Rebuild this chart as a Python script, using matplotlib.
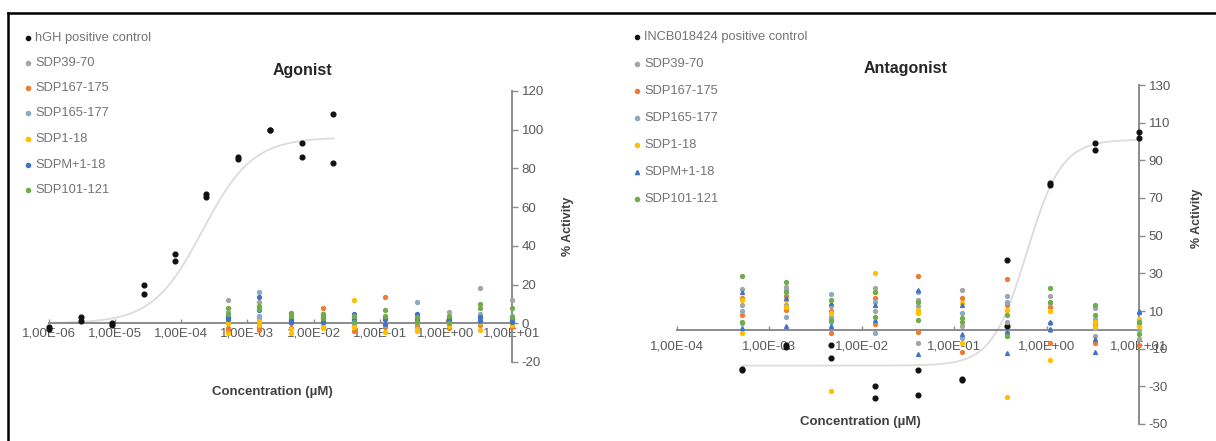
import numpy as np
import matplotlib
matplotlib.use('Agg')
import matplotlib.pyplot as plt
from matplotlib.lines import Line2D
from matplotlib.ticker import FixedLocator, FuncFormatter, NullLocator

plt.rcParams['font.family'] = ['Liberation Sans', 'DejaVu Sans']
plt.rcParams['axes.unicode_minus'] = False

# ---------------- data ----------------
series_names = ['SDP39-70', 'SDP167-175', 'SDP165-177', 'SDP1-18', 'SDPM+1-18', 'SDP101-121']
series_colors = ['#A5A5A5', '#ED7D31', '#8EA9C1', '#FFC000', '#4472C4', '#70AD47']

# Agonist panel
ag_ctrl_name = 'hGH positive control'
ag_ctrl_conc = [1.0e-6, 3.0e-6, 9.0e-6, 2.7e-5, 8.1e-5, 2.4e-4, 7.3e-4, 2.2e-3, 6.6e-3, 2.0e-2]
ag_ctrl_r1 = [-3, 3, 0, 20, 36, 67, 86, 100, 93, 108]
ag_ctrl_r2 = [-2, 1, -1, 15, 32, 65, 85, 100, 86, 83]
ag_fit = dict(bottom=0.0, top=96.0, ec50=2.1e-4, hill=1.15)

cmp_conc = [5.1e-4, 1.5e-3, 4.6e-3, 1.4e-2, 4.1e-2, 1.2e-1, 3.7e-1, 1.1, 3.3, 10.0]

ag_SDP39_70_r1 = [12, 11, 3, 2, 3, 3, 2.5, 5.8, 18, 12]
ag_SDP39_70_r2 = [3, 2.6, 1, 0, -1.5, 0, -1, 0, 2, 1]
ag_SDP167_175_r1 = [-2.5, -2, -2.5, 7.7, 1, 13.5, 1, 1, 1, 0]
ag_SDP167_175_r2 = [-4, -3.5, 0, 5, -4, -2, -2, -2.5, -1, -2]
ag_SDP165_177_r1 = [6, 16, 5.2, 1, 2, 1, 11, 2.6, 5, 4]
ag_SDP165_177_r2 = [1, 4, 2, -1, 0, -1, 0, -1, 0, 0]
ag_SDP1_18_r1 = [-5, -1, -5, -2.5, 12, -4.5, -4, -1.5, -3.5, 1.5]
ag_SDP1_18_r2 = [0, 1, -3, -1.5, -2, 0.5, -3, 0.5, 0.5, -1]
ag_SDPM1_18_r1 = [3, 13.5, 0.8, 3, 5, 2, 5, 2, 3, 2]
ag_SDPM1_18_r2 = [2, 6.7, 1.5, 0.5, 1.5, -0.5, 2, 1, 1, 0.5]
ag_SDP101_121_r1 = [8, 9, 5.5, 5, 4, 6.8, 3, 4, 10, 8]
ag_SDP101_121_r2 = [5, 7.5, 4, 2.5, 0.5, 4, 0.5, 0, 8, 3]

# Antagonist panel
an_ctrl_name = 'INCB018424 positive control'
an_ctrl_r1 = [-21.5, -8, -8, -30, -21.5, -26.5, 37, 78, 99, 105]
an_ctrl_r2 = [-21, -9, -15, -36, -34.5, -26, 2, 77, 95.5, 102]
an_fit = dict(bottom=-19.0, top=101.0, ec50=0.61, hill=2.3)

an_SDP39_70_r1 = [21.7, 23, 12.4, 22, 16, 21.2, 17.7, 17.7, 11.5, 5]
an_SDP39_70_r2 = [13, 13, 7, 10, -7, 2, 4, 3.5, -3.5, -5]
an_SDP167_175_r1 = [17, 18, 10, 17, 28.6, 16.8, 26.9, 12, 3, 2]
an_SDP167_175_r2 = [8, 10.6, -1.8, 3, -1, -12, 13, -7, -7, -8]
an_SDP165_177_r1 = [3.7, 21, 19, 15, 20.3, 9, 15, 14, 6, 0]
an_SDP165_177_r2 = [10, 7, 4.4, -1.8, 12.4, -4.4, -1, 0, 1, 3]
an_SDP1_18_r1 = [16, 15.7, -32.7, 30.4, 8.8, -7, 10.6, -16, 4.4, 1.8]
an_SDP1_18_r2 = [-1.8, 12, 9, 20.3, 10.6, 14, -35.4, 10, 1.5, 6]
an_SDPM1_18_r1 = [1, 2, 14, 13.3, 21, 13.3, -12.4, 4, -12, 9.7]
an_SDPM1_18_r2 = [20, 17, 1.8, 5, -13, -2, -1, 0.5, -5, 10]
an_SDP101_121_r1 = [28.6, 25.6, 16, 7, 15, 6.2, 8, 22, 13.3, 4]
an_SDP101_121_r2 = [4, 20, 5, 20, 5, 4, -3.5, 15, 8, -2]

ag_series = [(ag_SDP39_70_r1, ag_SDP39_70_r2), (ag_SDP167_175_r1, ag_SDP167_175_r2),
             (ag_SDP165_177_r1, ag_SDP165_177_r2), (ag_SDP1_18_r1, ag_SDP1_18_r2),
             (ag_SDPM1_18_r1, ag_SDPM1_18_r2), (ag_SDP101_121_r1, ag_SDP101_121_r2)]
an_series = [(an_SDP39_70_r1, an_SDP39_70_r2), (an_SDP167_175_r1, an_SDP167_175_r2),
             (an_SDP165_177_r1, an_SDP165_177_r2), (an_SDP1_18_r1, an_SDP1_18_r2),
             (an_SDPM1_18_r1, an_SDPM1_18_r2), (an_SDP101_121_r1, an_SDP101_121_r2)]

ag_xticks = [1e-6, 1e-5, 1e-4, 1e-3, 1e-2, 1e-1, 1e0, 1e1]
an_xticks = [1e-4, 1e-3, 1e-2, 1e-1, 1e0, 1e1]
ag_yticks = [-20, 0, 20, 40, 60, 80, 100, 120]
an_yticks = [-50, -30, -10, 10, 30, 50, 70, 90, 110, 130]

# ---------------- layout ----------------
W, H = 1216, 441
fig = plt.figure(figsize=(W / 100, H / 100), dpi=100)


def fx(px):
    return px / W


def fy(py):
    return 1 - py / H


AXIS_C = '#8c8c8c'
TICK_C = '#595959'


def fmt_sci(v, pos):
    e = int(round(np.log10(v)))
    return f"1,00E{e:+03d}"


def style(ax, xlim, ylim, xticks, yticks, xpad):
    ax.set_xscale('log')
    ax.set_xlim(*xlim)
    ax.set_ylim(*ylim)
    ax.patch.set_alpha(0)
    for s in ('top', 'left'):
        ax.spines[s].set_visible(False)
    ax.spines['bottom'].set_position(('data', 0))
    for s in ('bottom', 'right'):
        ax.spines[s].set_color(AXIS_C)
        ax.spines[s].set_linewidth(1.4)
    ax.xaxis.set_major_locator(FixedLocator(xticks))
    ax.xaxis.set_minor_locator(NullLocator())
    ax.xaxis.set_major_formatter(FuncFormatter(fmt_sci))
    ax.tick_params(axis='x', direction='in', length=3, width=1, color=AXIS_C,
                   labelsize=9.5, labelcolor=TICK_C, pad=xpad)
    ax.yaxis.tick_right()
    ax.set_yticks(yticks)
    ax.tick_params(axis='y', direction='out', length=4, width=1, color=AXIS_C,
                   labelsize=9.5, labelcolor=TICK_C, pad=3)


def four_pl(x, p):
    return p['bottom'] + (p['top'] - p['bottom']) / (1 + (p['ec50'] / x) ** p['hill'])


axL = fig.add_axes([fx(49), fy(362), fx(512) - fx(49), fy(91) - fy(362)])
axR = fig.add_axes([fx(677), fy(424), fx(1139) - fx(677), fy(85) - fy(424)])

style(axL, (1e-6, 1e1), (-20, 120), ag_xticks, ag_yticks, 3)
style(axR, (1e-4, 1e1), (-50, 130), an_xticks, an_yticks, 7.5)

# fit curves
xc = np.logspace(np.log10(ag_ctrl_conc[0]), np.log10(ag_ctrl_conc[-1]), 300)
axL.plot(xc, four_pl(xc, ag_fit), color='#dcdcdc', lw=1.3, zorder=1)
xc2 = np.logspace(np.log10(cmp_conc[0]), np.log10(cmp_conc[-1]), 300)
axR.plot(xc2, four_pl(xc2, an_fit), color='#dcdcdc', lw=1.3, zorder=1)

# control points
for r in (ag_ctrl_r1, ag_ctrl_r2):
    axL.plot(ag_ctrl_conc, r, 'o', ms=3.4, color='#111111', mec='#111111', clip_on=False, zorder=3)
for r in (an_ctrl_r1, an_ctrl_r2):
    axR.plot(cmp_conc, r, 'o', ms=3.4, color='#111111', mec='#111111', clip_on=False, zorder=3)

# compound points
for (r1, r2), c in zip(ag_series, series_colors):
    for r in (r1, r2):
        axL.plot(cmp_conc, r, 'o', ms=2.8, color=c, mec=c, clip_on=False, zorder=4)
for i, ((r1, r2), c) in enumerate(zip(an_series, series_colors)):
    mk = '^' if series_names[i] == 'SDPM+1-18' else 'o'
    for r in (r1, r2):
        axR.plot(cmp_conc, r, mk, ms=2.8, color=c, mec=c, clip_on=False, zorder=4)

# ---------------- texts ----------------
fig.text(fx(302), fy(70), 'Agonist', ha='center', va='center', fontsize=11.5,
         fontweight='bold', color='#262626')
fig.text(fx(906), fy(69), 'Antagonist', ha='center', va='center', fontsize=11.5,
         fontweight='bold', color='#262626')
fig.text(fx(272), fy(392), 'Concentration (µM)', ha='center', va='center', fontsize=9.5,
         fontweight='bold', color='#404040')
fig.text(fx(860), fy(422), 'Concentration (µM)', ha='center', va='center', fontsize=9.5,
         fontweight='bold', color='#404040')
fig.text(fx(568), fy(226), '% Activity', ha='center', va='center', fontsize=9,
         fontweight='bold', color='#404040', rotation=90)
fig.text(fx(1197), fy(218), '% Activity', ha='center', va='center', fontsize=9,
         fontweight='bold', color='#404040', rotation=90)

# legends
LEG_C = '#737373'
ag_leg_rows = [38, 63, 88, 113, 139, 165, 190]
an_leg_rows = [37, 64, 91, 118, 145, 172, 199]
ag_leg_labels = [ag_ctrl_name] + series_names
an_leg_labels = [an_ctrl_name] + series_names
leg_colors = ['#111111'] + series_colors

for y, lab, c in zip(ag_leg_rows, ag_leg_labels, leg_colors):
    fig.add_artist(Line2D([fx(28)], [fy(y)], marker='o', ms=3.0, color=c, mec=c, ls='none'))
    fig.text(fx(35), fy(y), lab, ha='left', va='center', fontsize=9.3, color=LEG_C)
for i, (y, lab, c) in enumerate(zip(an_leg_rows, an_leg_labels, leg_colors)):
    mk = '^' if lab == 'SDPM+1-18' else 'o'
    fig.add_artist(Line2D([fx(637)], [fy(y)], marker=mk, ms=3.0, color=c, mec=c, ls='none'))
    fig.text(fx(644), fy(y), lab, ha='left', va='center', fontsize=9.3, color=LEG_C)

# outer frame (top and left edges visible)
fig.add_artist(Line2D([fx(8), 1.0], [fy(12.5), fy(12.5)], color='black', lw=1.8))
fig.add_artist(Line2D([fx(8), fx(8)], [fy(12.5), 0.0], color='black', lw=1.8))

fig.savefig('out.png', dpi=100)
